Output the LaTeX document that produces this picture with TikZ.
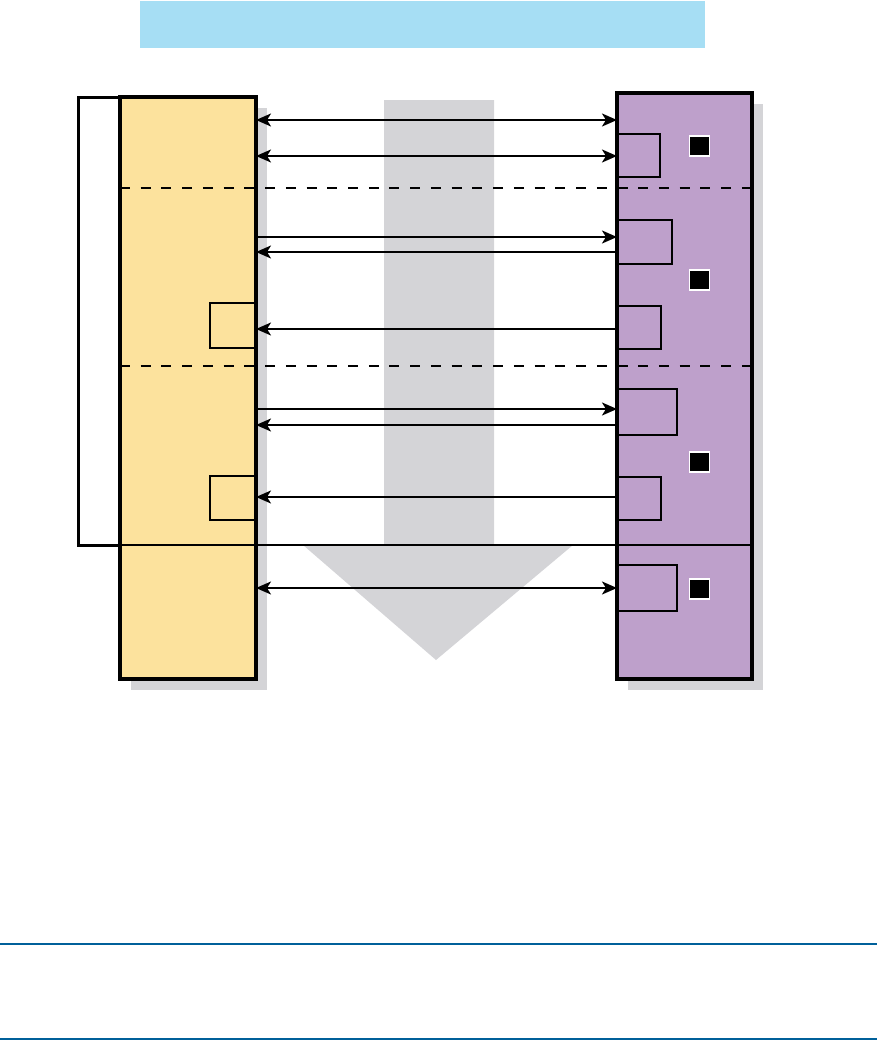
\documentclass[tikz,border=0pt]{standalone}
\usepackage{xcolor}
\usepackage{tikz}
\usetikzlibrary{arrows.meta, positioning}

\definecolor{barblue}{HTML}{A6DEF4}
\definecolor{ruleblue}{HTML}{00609A}
\definecolor{yelfill}{HTML}{FCE29D}
\definecolor{purfill}{HTML}{BEA0CB}
\definecolor{shadowgray}{HTML}{D4D4D7}

\tikzset{
  panel/.style={draw, line width=3.2pt, inner sep=0pt, outer sep=0pt, anchor=north west},
  port/.style={draw, line width=2pt, inner sep=0pt, outer sep=0pt, anchor=north west},
  flag/.style={fill=black, draw=white, line width=1.5pt, minimum size=20pt, inner sep=0pt},
  link/.style={line width=2pt},
  divider/.style={line width=2pt, dash pattern=on 10pt off 10.73pt},
}

\begin{document}
\begin{tikzpicture}[x=1pt, y=-1pt, >={Stealth[length=15pt, width=13pt, inset=4pt]}]
        \useasboundingbox (0,0) rectangle (877,1041);

        % top bar and bottom rules
        \fill[barblue] (140,1) rectangle (705,48);
        \draw[ruleblue, line width=1.5pt] (0,944) -- (877,944);
        \draw[ruleblue, line width=1.5pt] (0,1039) -- (877,1039);

        % big gray arrow behind
        \fill[shadowgray] (384,100) -- (494,100) -- (494,545) -- (573,545) -- (436,660)
                     -- (303,545) -- (384,545) -- cycle;

        % shadows
        \fill[shadowgray] (131,108) rectangle (267,690);
        \fill[shadowgray] (628,104) rectangle (763,690);

        % the two panels
        \node[panel, fill=yelfill, minimum width=136pt, minimum height=582pt] (lbox) at (120,97) {};
        \node[panel, fill=purfill, minimum width=135pt, minimum height=586pt] (rbox) at (617,93) {};

        % ports on the right panel
        \node[port, minimum width=43pt, minimum height=43pt] (r1) at (617,134) {};
        \node[port, minimum width=55pt, minimum height=44pt] (r2) at (617,220) {};
        \node[port, minimum width=44pt, minimum height=43pt] (r3) at (617,306) {};
        \node[port, minimum width=60pt, minimum height=46pt] (r4) at (617,389) {};
        \node[port, minimum width=44pt, minimum height=43pt] (r5) at (617,477) {};
        \node[port, minimum width=60pt, minimum height=46pt] (r6) at (617,565) {};

        % ports on the left panel
        \node[port, minimum width=46pt, minimum height=45pt] (l1) at (210,303) {};
        \node[port, minimum width=46pt, minimum height=44pt] (l2) at (210,476) {};

        % black flags
        \node[flag] (f1) at (699.5,146) {};
        \node[flag] (f2) at (699.5,280) {};
        \node[flag] (f3) at (699.5,462) {};
        \node[flag] (f4) at (699.5,589) {};

        % bracket and section lines
        \draw[line width=3pt] (lbox.north west) -- (78,97) -- (78,545) -- (lbox.west |- 0,545);
        \draw[line width=2.4pt] (lbox.west |- 0,545) -- (rbox.east |- 0,545);
        \draw[divider] (lbox.west |- 0,188) -- (rbox.east |- 0,188);
        \draw[divider] (lbox.west |- 0,366) -- (rbox.east |- 0,366);

        % links between the panels
        \draw[link, <->] (lbox.east |- 0,120) -- (rbox.west |- 0,120);
        \draw[link, <->] (lbox.east |- 0,156) -- (rbox.west |- 0,156);
        \draw[link, ->] (lbox.east |- 0,237) -- (r2.west |- 0,237);
        \draw[link, <-] (lbox.east |- 0,252) -- (r2.west |- 0,252);
        \draw[link, <-] (l1.east |- 0,329) -- (r3.west |- 0,329);
        \draw[link, ->] (lbox.east |- 0,409) -- (r4.west |- 0,409);
        \draw[link, <-] (lbox.east |- 0,425) -- (r4.west |- 0,425);
        \draw[link, <-] (l2.east |- 0,497) -- (r5.west |- 0,497);
        \draw[link, <->] (lbox.east |- 0,588) -- (r6.west |- 0,588);
\end{tikzpicture}
\end{document}
